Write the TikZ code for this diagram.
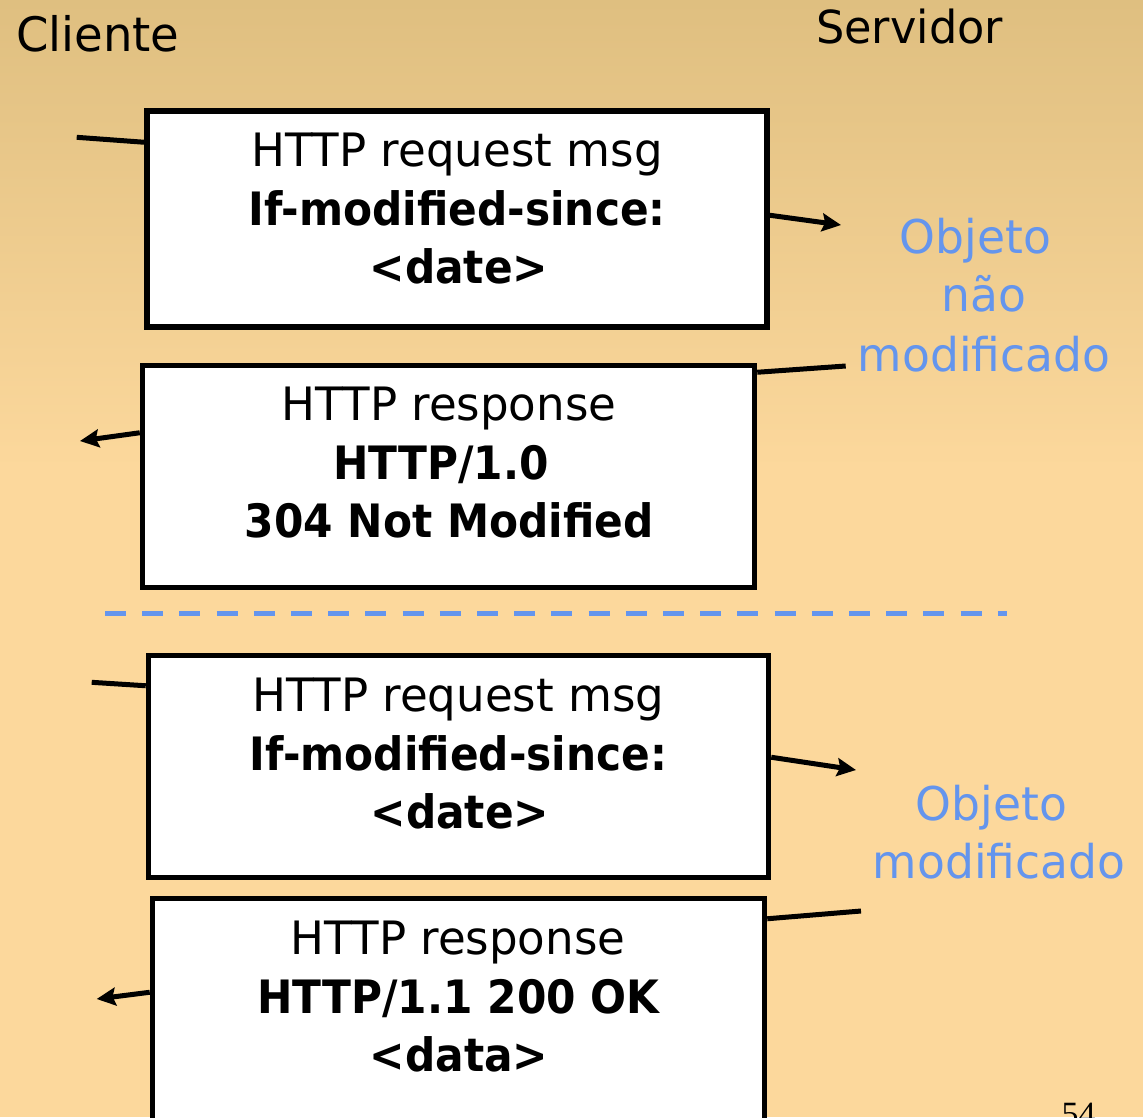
\documentclass[tikz,border=0pt]{standalone}
\usepackage{fontspec}
\setmainfont{DejaVu Sans}[FakeStretch=0.98, BoldFeatures={FakeStretch=0.92}]
\newfontfamily\pagefont{Liberation Serif}
\usetikzlibrary{arrows.meta,calc}
\definecolor{bgtop}{HTML}{DFBF80}
\definecolor{bgbot}{HTML}{FCD89C}
\definecolor{objblue}{HTML}{6495ED}
\tikzset{
  msgbox/.style={draw=black, line width=5.5pt, fill=white, inner sep=0pt, rectangle},
  boxtxt/.style={anchor=base, inner sep=0pt, font=\fontsize{46}{55}\selectfont},
  boxbold/.style={boxtxt, font=\fontsize{46}{55}\selectfont\bfseries},
  sidetxt/.style={anchor=base, inner sep=0pt, text=objblue, font=\fontsize{46.5}{56}\selectfont},
  headtxt/.style={anchor=base west, inner sep=0pt},
  wire/.style={line width=5pt, line cap=butt},
  msgarrow/.style={wire, -{Stealth[length=19pt, width=18pt, inset=3pt]}},
}
\begin{document}
\begin{tikzpicture}[x=1pt, y=-1pt]
\useasboundingbox (0,0) rectangle (1143,1117);
\fill[bgbot] (0,0) rectangle (1143,1117);
\shade[top color=bgtop, bottom color=bgbot] (0,0) rectangle (1143,470);

% headers
\node[headtxt, font=\fontsize{47.5}{55}\selectfont] (cli) at (16,51.5) {Cliente};
\node[headtxt, font=\fontsize{45.5}{55}\selectfont] (srv) at (816,43.5) {Servidor};

% boxes
\node[msgbox, minimum width=620pt, minimum height=216pt] (b1) at (457,219) {};
\node[msgbox, minimum width=612pt, minimum height=222pt] (b2) at (448.5,476.5) {};
\node[msgbox, minimum width=620pt, minimum height=222pt] (b3) at (458.5,766.5) {};
\node[msgbox, minimum width=612pt, minimum height=222pt] (b4) at (458.5,1009.5) {};

% box texts
\node[boxtxt]  (b1a) at (457,166.7) {HTTP request msg};
\node[boxbold] (b1b) at (457,225.2) {If-modified-since:};
\node[boxbold] (b1c) at (459,283.7) {<date>};

\node[boxtxt]  (b2a) at (449,420.7) {HTTP response};
\node[boxbold] (b2b) at (441,479.2) {HTTP/1.0};
\node[boxbold] (b2c) at (449,537.7) {304 Not Modified};

\node[boxtxt]  (b3a) at (458.5,711.7) {HTTP request msg};
\node[boxbold] (b3b) at (458.5,770.2) {If-modified-since:};
\node[boxbold] (b3c) at (460,828.7) {<date>};

\node[boxtxt]  (b4a) at (458,954.7) {HTTP response};
\node[boxbold] (b4b) at (458.5,1013.2) {HTTP/1.1 200 OK};
\node[boxbold] (b4c) at (459,1071.7) {<data>};

% side labels
\node[sidetxt] (n1) at (975.5,253) {Objeto};
\node[sidetxt] (n2) at (984,311) {não};
\node[sidetxt] (n3) at (984,371) {modificado};
\node[sidetxt] (m1) at (991.5,820) {Objeto};
\node[sidetxt] (m2) at (999,878) {modificado};

% dashed separator
\coordinate (dl) at (105,613.5);
\coordinate (dr) at (1007,613.5);
\draw[objblue, line width=5pt, dash pattern=on 21pt off 16.2pt] (dl) -- (dr);

% connectors
\coordinate (c1) at (76.7,137.3);
\coordinate (a1) at (841,225);
\coordinate (c2) at (845.7,366);
\coordinate (a2) at (80,441);
\coordinate (c3) at (91.7,682.3);
\coordinate (a3) at (856,770);
\coordinate (c4) at (861,911);
\coordinate (a4) at (96.7,999);

\draw[wire] (c1) -- ($(b1.north west)+(0,34)$);
\draw[msgarrow] ($(b1.north east)+(0,107)$) -- (a1);
\draw[wire] (c2) -- ($(b2.north east)+(0,9.5)$);
\draw[msgarrow] ($(b2.north west)+(0,70)$) -- (a2);
\draw[wire] (c3) -- ($(b3.north west)+(0,33)$);
\draw[msgarrow] ($(b3.north east)+(0,104.5)$) -- (a3);
\draw[wire] (c4) -- ($(b4.north east)+(0,23)$);
\draw[msgarrow] ($(b4.north west)+(0,96.5)$) -- (a4);

% page number
\node[anchor=base, inner sep=0pt, font=\pagefont\fontsize{34}{40}\selectfont] (pg) at (1078.5,1125) {54};
\end{tikzpicture}
\end{document}
